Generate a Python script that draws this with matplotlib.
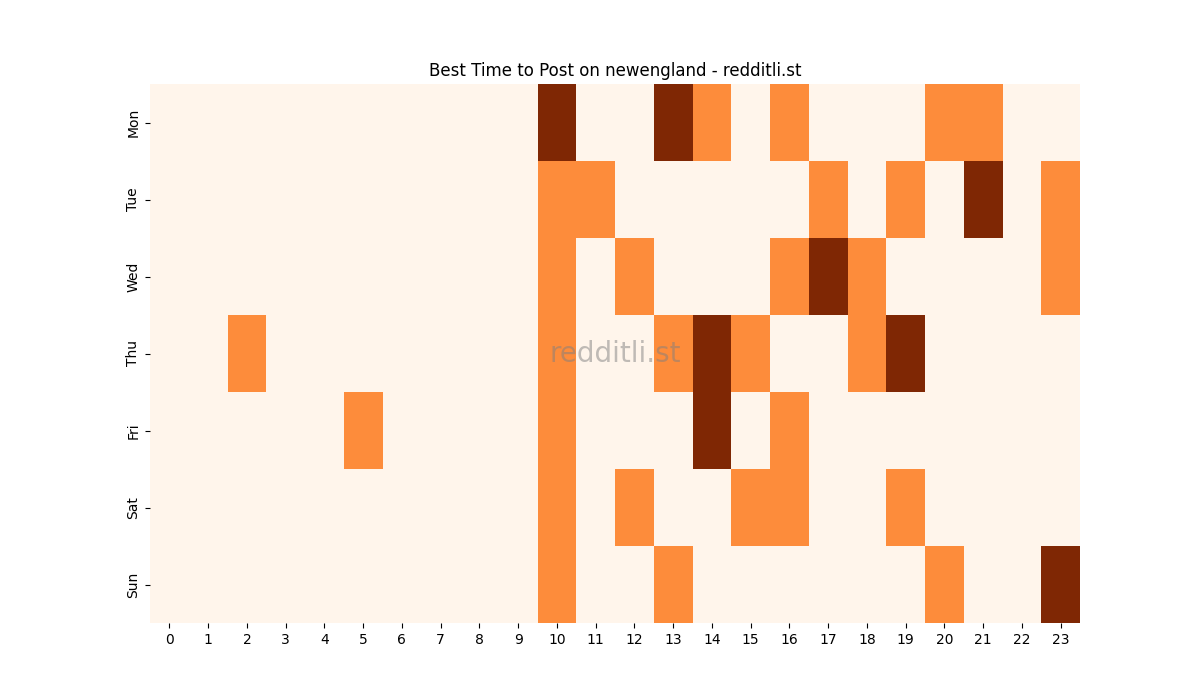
import matplotlib
matplotlib.use("Agg")
import matplotlib.pyplot as plt
import numpy as np
import seaborn as sns

days = ["Mon", "Tue", "Wed", "Thu", "Fri", "Sat", "Sun"]
hours = list(range(24))

# 0 = quiet, 1 = good, 2 = best (per hour)
mon = [0, 0, 0, 0, 0, 0, 0, 0, 0, 0, 2, 0, 0, 2, 1, 0, 1, 0, 0, 0, 1, 1, 0, 0]
tue = [0, 0, 0, 0, 0, 0, 0, 0, 0, 0, 1, 1, 0, 0, 0, 0, 0, 1, 0, 1, 0, 2, 0, 1]
wed = [0, 0, 0, 0, 0, 0, 0, 0, 0, 0, 1, 0, 1, 0, 0, 0, 1, 2, 1, 0, 0, 0, 0, 1]
thu = [0, 0, 1, 0, 0, 0, 0, 0, 0, 0, 1, 0, 0, 1, 2, 1, 0, 0, 1, 2, 0, 0, 0, 0]
fri = [0, 0, 0, 0, 0, 1, 0, 0, 0, 0, 1, 0, 0, 0, 2, 0, 1, 0, 0, 0, 0, 0, 0, 0]
sat = [0, 0, 0, 0, 0, 0, 0, 0, 0, 0, 1, 0, 1, 0, 0, 1, 1, 0, 0, 1, 0, 0, 0, 0]
sun = [0, 0, 0, 0, 0, 0, 0, 0, 0, 0, 1, 0, 0, 1, 0, 0, 0, 0, 0, 0, 1, 0, 0, 2]

grid = np.array([mon, tue, wed, thu, fri, sat, sun])

fig, ax = plt.subplots(figsize=(12, 7), dpi=100)
sns.heatmap(grid, cmap="Oranges", vmin=0, vmax=2, cbar=False,
            xticklabels=hours, yticklabels=days, ax=ax)
ax.set_title("Best Time to Post on newengland - redditli.st", fontsize=12)
ax.tick_params(axis="y", rotation=90)
ax.tick_params(axis="x", rotation=0)
ax.text(0.5, 0.5, "redditli.st", transform=ax.transAxes, ha="center",
        va="center", fontsize=20, color="gray", alpha=0.5)

fig.savefig("out.png", dpi=100)
